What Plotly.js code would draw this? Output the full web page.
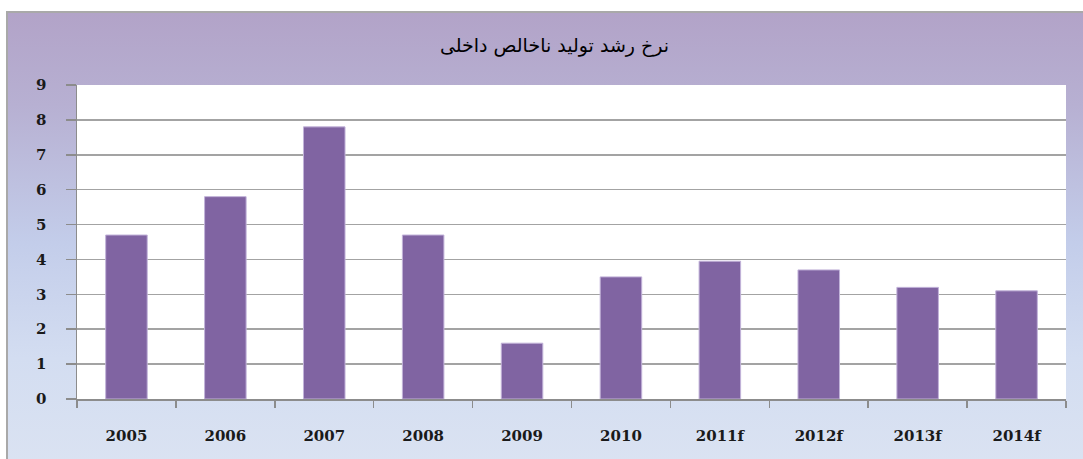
<!DOCTYPE html>
<html>
<head>
<meta charset="utf-8">
<script src="https://cdn.plot.ly/plotly-3.0.1.min.js"></script>
<style>
html,body{margin:0;padding:0;background:#ffffff;width:1083px;height:459px;overflow:hidden;}
#frame{position:absolute;left:6px;top:11px;width:1090px;height:460px;border:2px solid #a9a9a9;
  background:linear-gradient(to bottom,#b2a3c8 0%,#b7b0d2 20%,#c3cdea 50%,#d3ddf1 75%,#dbe3f2 100%);}
#chart{position:absolute;left:0;top:0;width:1083px;height:459px;}
</style>
</head>
<body>
<div id="frame"></div>
<div id="chart"></div>
<script>
const years = ["2005","2006","2007","2008","2009","2010","2011f","2012f","2013f","2014f"];
const gdpGrowth = [4.7, 5.8, 7.8, 4.7, 1.6, 3.5, 3.95, 3.7, 3.2, 3.1];
const yTicks = [0,1,2,3,4,5,6,7,8,9];
const chartTitle = "نرخ رشد تولید ناخالص داخلی";

const trace = {
  type: "bar",
  x: years,
  y: gdpGrowth,
  marker: {color: "#8064a2", line: {color: "#c2b3d9", width: 1}},
  hoverinfo: "x+y"
};

const layout = {
  width: 1083, height: 459,
  paper_bgcolor: "rgba(0,0,0,0)",
  plot_bgcolor: "#ffffff",
  margin: {l: 77, r: 17, t: 85, b: 60},
  bargap: 0.58,
  showlegend: false,
  title: {text: chartTitle, x: 0.512, xanchor: "center", y: 0.902, yanchor: "middle",
          font: {family: "DejaVu Sans", size: 19, color: "#000000"}},
  xaxis: {
    type: "category",
    tickson: "boundaries",
    ticks: "outside", ticklen: 7, tickcolor: "#8c8c8c", tickwidth: 1.5,
    showline: true, linecolor: "#8c8c8c", linewidth: 1.5,
    showgrid: false,
    ticklabelstandoff: 22,
    tickfont: {family: "DejaVu Serif", size: 15, color: "#1a1a1a", weight: "bold"}
  },
  yaxis: {
    range: [0, 9],
    tickvals: yTicks,
    ticktext: yTicks.map(String),
    ticks: "outside", ticklen: 10, tickcolor: "#8c8c8c", tickwidth: 1.5,
    showline: true, linecolor: "#8c8c8c", linewidth: 1.5,
    showgrid: true, gridcolor: "#a3a3a3", gridwidth: 1.5,
    zeroline: false,
    ticklabelstandoff: 16,
    tickfont: {family: "DejaVu Serif", size: 15, color: "#1a1a1a", weight: "bold"}
  }
};

Plotly.newPlot("chart", [trace], layout, {displayModeBar: false, staticPlot: true});
</script>
</body>
</html>
